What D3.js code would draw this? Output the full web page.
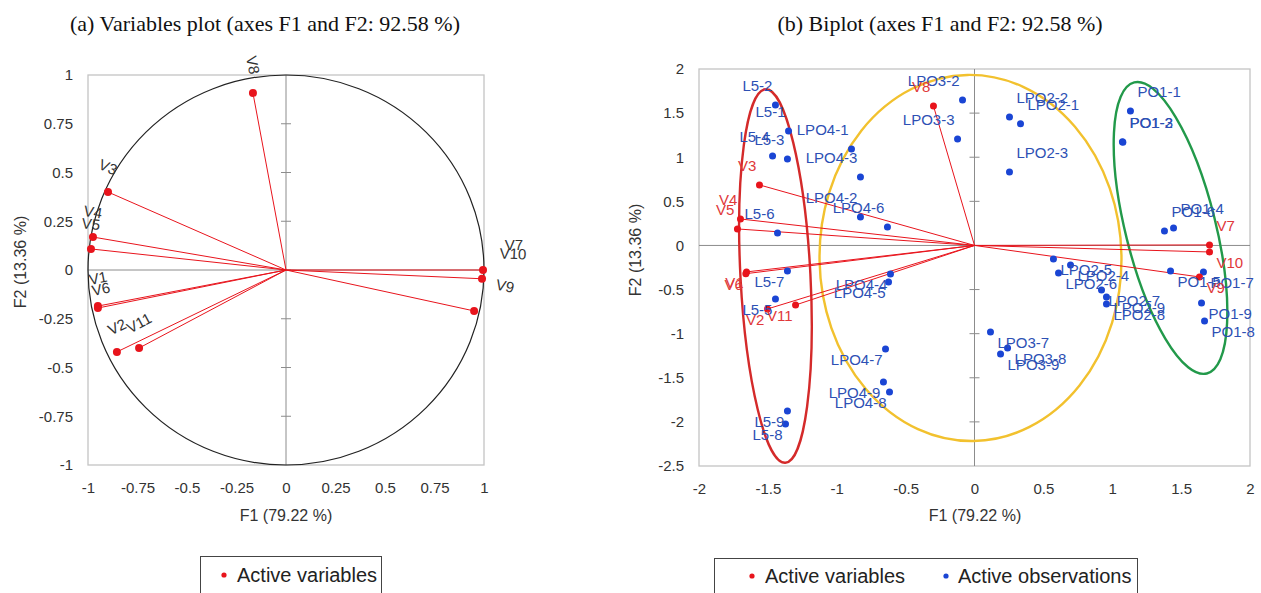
<!DOCTYPE html>
<html>
<head>
<meta charset="utf-8">
<script src="https://cdn.jsdelivr.net/npm/d3@7"></script>
<style>
  body { margin: 0; background: #fff; }
  svg { display: block; }
</style>
</head>
<body>
<svg id="chart" width="1261" height="593"></svg>
<script>
// ---- donnees ----
const varNames = ["V1", "V2", "V3", "V4", "V5", "V6", "V7", "V8", "V9", "V10", "V11"];
// cercle des correlations (a)
const varF1 = [-0.95, -0.854, -0.899, -0.975, -0.985, -0.95, 0.995, -0.167, 0.95, 0.99, -0.742];
const varF2 = [-0.185, -0.42, 0.40, 0.169, 0.108, -0.195, 0.0, 0.908, -0.21, -0.045, -0.40];
// biplot (b)
const biVarF1 = [-1.655, -1.503, -1.561, -1.699, -1.721, -1.66, 1.706, -0.298, 1.633, 1.706, -1.299];
const biVarF2 = [-0.30, -0.720, 0.686, 0.300, 0.187, -0.32, 0.006, 1.582, -0.357, -0.074, -0.675];

const obsNames = ["L5-1", "L5-2", "L5-3", "L5-4", "L5-5", "L5-6", "L5-7", "L5-8", "L5-9",
  "LPO4-1", "LPO4-2", "LPO4-3", "LPO4-4", "LPO4-5", "LPO4-6", "LPO4-7", "LPO4-8", "LPO4-9",
  "LPO3-2", "LPO3-3", "LPO3-7", "LPO3-8", "LPO3-9",
  "LPO2-1", "LPO2-2", "LPO2-3", "LPO2-4", "LPO2-5", "LPO2-6", "LPO2-7", "LPO2-8", "LPO2-9",
  "PO1-1", "PO1-2", "PO1-3", "PO1-4", "PO1-5", "PO1-6", "PO1-7", "PO1-8", "PO1-9"];
const obsF1 = [-1.350, -1.445, -1.358, -1.466, -1.445, -1.430, -1.358, -1.372, -1.358,
  -0.893, -0.828, -0.828, -0.610, -0.624, -0.632, -0.646, -0.617, -0.661,
  -0.087, -0.123, 0.116, 0.240, 0.189,
  0.334, 0.254, 0.254, 0.697, 0.573, 0.610, 0.922, 0.958, 0.958,
  1.132, 1.074, 1.077, 1.445, 1.423, 1.379, 1.662, 1.670, 1.648];
const obsF2 = [1.298, 1.593, 0.981, 1.015, -0.607, 0.142, -0.289, -2.023, -1.876,
  1.094, 0.323, 0.777, -0.323, -0.414, 0.210, -1.173, -1.661, -1.548,
  1.649, 1.207, -0.981, -1.162, -1.230,
  1.378, 1.457, 0.833, -0.221, -0.153, -0.312, -0.505, -0.663, -0.584,
  1.525, 1.175, 1.170, 0.198, -0.289, 0.164, -0.300, -0.856, -0.652];

const corTicks = [-1, -0.75, -0.5, -0.25, 0, 0.25, 0.5, 0.75, 1];
const biXTicks = [-2, -1.5, -1, -0.5, 0, 0.5, 1, 1.5, 2];
const biYTicks = [-2.5, -2, -1.5, -1, -0.5, 0, 0.5, 1, 1.5, 2];

// groupes entoures (centre, demi-axes en unites des axes, inclinaison en degres)
const groupColor = ["#d42a2a", "#f2c12e", "#22994a"];
const groupCx = [-1.445, -0.029, 1.423];
const groupCy = [-0.346, -0.142, 0.198];
const groupRx = [0.254, 1.096, 0.327];
const groupRy = [2.12, 2.075, 1.70];
const groupTilt = [-3, -1, -14];

const RED = "#e8141c", BLUE = "#1a45d4";
const sans = "'Liberation Sans', Arial, sans-serif";
const serif = "'Liberation Serif', 'Times New Roman', serif";

const svg = d3.select("#chart");
svg.append("rect").attr("width", 1261).attr("height", 593).attr("fill", "#fff");

function frame(g, x, y, xTicks, yTicks, crossTicks) {
  const [x0, x1] = x.range(), [y1, y0] = y.range();
  g.append("rect").attr("x", x0).attr("y", y0).attr("width", x1 - x0).attr("height", y1 - y0)
    .attr("fill", "none").attr("stroke", "#c4c4c4").attr("stroke-width", 1.3);

  const ax = g.append("g").attr("transform", "translate(0," + y1 + ")")
    .call(d3.axisBottom(x).tickValues(xTicks).tickSize(0).tickPadding(17).tickFormat(d => d));
  const ay = g.append("g").attr("transform", "translate(" + x0 + ",0)")
    .call(d3.axisLeft(y).tickValues(yTicks).tickSize(0).tickPadding(15).tickFormat(d => d));
  [ax, ay].forEach(a => {
    a.select(".domain").remove();
    a.selectAll("text").attr("font-family", sans).attr("font-size", 15).attr("fill", "#333");
  });

  // axes passant par l'origine
  g.append("line").attr("x1", x0).attr("x2", x1).attr("y1", y(0)).attr("y2", y(0))
    .attr("stroke", "#8c8c8c").attr("stroke-width", 1);
  g.append("line").attr("x1", x(0)).attr("x2", x(0)).attr("y1", y0).attr("y2", y1)
    .attr("stroke", "#8c8c8c").attr("stroke-width", 1);
  g.selectAll(".ctick").data(crossTicks).join("line")
    .attr("x1", x(0) - 5).attr("x2", x(0) + 5)
    .attr("y1", d => y(d)).attr("y2", d => y(d))
    .attr("stroke", "#8c8c8c").attr("stroke-width", 1);
}

// ================= (a) cercle des correlations =================
const xL = d3.scaleLinear().domain([-1, 1]).range([88, 484]);
const yL = d3.scaleLinear().domain([-1, 1]).range([465, 75]);
const gL = svg.append("g");

frame(gL, xL, yL, corTicks, corTicks, corTicks.filter(d => d !== 1 && d !== -1));

gL.append("ellipse").attr("cx", xL(0)).attr("cy", yL(0))
  .attr("rx", xL(1) - xL(0)).attr("ry", yL(0) - yL(1))
  .attr("fill", "none").attr("stroke", "#222").attr("stroke-width", 1.2);

varNames.forEach((n, i) => {
  gL.append("line").attr("x1", xL(0)).attr("y1", yL(0))
    .attr("x2", xL(varF1[i])).attr("y2", yL(varF2[i]))
    .attr("stroke", RED).attr("stroke-width", 1);
});
gL.selectAll(".vdot").data(varNames).join("circle")
  .attr("cx", (d, i) => xL(varF1[i])).attr("cy", (d, i) => yL(varF2[i]))
  .attr("r", 4).attr("fill", RED);

// etiquettes paralleles aux vecteurs
const nudge = { V1: [0, -3], V6: [3, 6], V8: [0, -3] };
varNames.forEach((n, i) => {
  const px = xL(varF1[i]), py = yL(varF2[i]);
  let ang = Math.atan2(py - yL(0), px - xL(0)) * 180 / Math.PI;
  if (ang > 90) ang -= 180;
  if (ang <= -90) ang += 180;
  const nd = nudge[n] || [0, 0];
  const lx = px + (varF1[i] > 0 ? 31 : 0) + nd[0];
  const ly = py - 25 + nd[1];
  gL.append("text").attr("transform", "translate(" + lx + "," + ly + ") rotate(" + ang + ")")
    .attr("text-anchor", "middle").attr("dy", "0.35em")
    .attr("font-family", sans).attr("font-size", 15).attr("fill", "#333").text(n);
});

// ================= (b) biplot =================
const xB = d3.scaleLinear().domain([-2, 2]).range([699, 1250]);
const yB = d3.scaleLinear().domain([-2.5, 2]).range([466, 69]);
const gB = svg.append("g");

frame(gB, xB, yB, biXTicks, biYTicks, biYTicks.filter(d => d !== 2 && d !== -2.5));

const kx = xB(1) - xB(0), ky = yB(0) - yB(1);
groupColor.forEach((c, i) => {
  gB.append("ellipse")
    .attr("transform", "translate(" + xB(groupCx[i]) + "," + yB(groupCy[i]) + ") rotate(" + groupTilt[i] + ")")
    .attr("rx", groupRx[i] * kx).attr("ry", groupRy[i] * ky)
    .attr("fill", "none").attr("stroke", c).attr("stroke-width", 2.4);
});

varNames.forEach((n, i) => {
  gB.append("line").attr("x1", xB(0)).attr("y1", yB(0))
    .attr("x2", xB(biVarF1[i])).attr("y2", yB(biVarF2[i]))
    .attr("stroke", RED).attr("stroke-width", 1);
});

gB.selectAll(".odot").data(obsNames).join("circle")
  .attr("cx", (d, i) => xB(obsF1[i])).attr("cy", (d, i) => yB(obsF2[i]))
  .attr("r", 3.5).attr("fill", BLUE);
gB.selectAll(".bvdot").data(varNames).join("circle")
  .attr("cx", (d, i) => xB(biVarF1[i])).attr("cy", (d, i) => yB(biVarF2[i]))
  .attr("r", 3.5).attr("fill", RED);

// etiquettes placees selon le quadrant
function quadLabel(name, f1, f2, color) {
  const px = xB(f1), py = yB(f2);
  gB.append("text")
    .attr("x", f1 >= 0 ? px + 7 : px - 3)
    .attr("y", f2 >= 0 ? py - 14 : py + 16)
    .attr("text-anchor", f1 >= 0 ? "start" : "end")
    .attr("font-family", sans).attr("font-size", 15).attr("fill", color).text(name);
}
obsNames.forEach((n, i) => quadLabel(n, obsF1[i], obsF2[i], "#2d50b4"));
varNames.forEach((n, i) => quadLabel(n, biVarF1[i], biVarF2[i], "#e0383a"));

// ================= titres =================
svg.append("text").attr("x", 265).attr("y", 31).attr("text-anchor", "middle")
  .attr("font-family", serif).attr("font-size", 22)
  .attr("fill", "#111").text("(a) Variables plot (axes F1 and F2: 92.58 %)");
svg.append("text").attr("x", 940).attr("y", 31).attr("text-anchor", "middle")
  .attr("font-family", serif).attr("font-size", 22)
  .attr("fill", "#111").text("(b) Biplot (axes F1 and F2: 92.58 %)");

svg.append("text").attr("x", 286).attr("y", 521).attr("text-anchor", "middle")
  .attr("font-family", sans).attr("font-size", 16).attr("fill", "#333").text("F1 (79.22 %)");
svg.append("text").attr("x", 975).attr("y", 521).attr("text-anchor", "middle")
  .attr("font-family", sans).attr("font-size", 16).attr("fill", "#333").text("F1 (79.22 %)");
svg.append("text").attr("transform", "translate(26,262) rotate(-90)").attr("text-anchor", "middle")
  .attr("font-family", sans).attr("font-size", 16).attr("fill", "#333").text("F2 (13.36 %)");
svg.append("text").attr("transform", "translate(641,250) rotate(-90)").attr("text-anchor", "middle")
  .attr("font-family", sans).attr("font-size", 16).attr("fill", "#333").text("F2 (13.36 %)");

// ================= legendes =================
const legFont = "'Liberation Sans Narrow', 'Liberation Sans', Arial, sans-serif";
svg.append("rect").attr("x", 200.5).attr("y", 556.5).attr("width", 181).attr("height", 50)
  .attr("fill", "#fff").attr("stroke", "#444");
svg.append("circle").attr("cx", 224).attr("cy", 575).attr("r", 2.6).attr("fill", RED);
svg.append("text").attr("x", 237).attr("y", 582).attr("font-family", legFont).attr("font-size", 20)
  .attr("fill", "#222").text("Active variables");

svg.append("rect").attr("x", 714.5).attr("y", 558.5).attr("width", 423).attr("height", 50)
  .attr("fill", "#fff").attr("stroke", "#444");
svg.append("circle").attr("cx", 752).attr("cy", 576).attr("r", 2.6).attr("fill", RED);
svg.append("text").attr("x", 765).attr("y", 583).attr("font-family", legFont).attr("font-size", 20)
  .attr("fill", "#222").text("Active variables");
svg.append("circle").attr("cx", 946).attr("cy", 576).attr("r", 2.6).attr("fill", BLUE);
svg.append("text").attr("x", 958).attr("y", 583).attr("font-family", legFont).attr("font-size", 20)
  .attr("fill", "#222").text("Active observations");
</script>
</body>
</html>
